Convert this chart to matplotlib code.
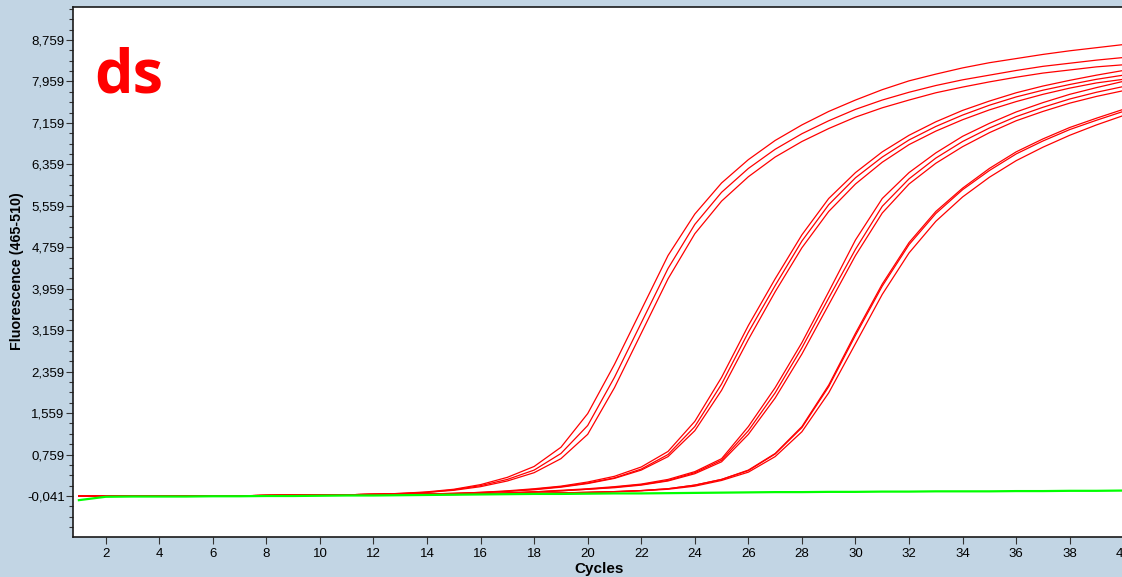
import numpy as np
import matplotlib.pyplot as plt
from matplotlib.ticker import FixedLocator, MultipleLocator, FuncFormatter

# cycles 1..40
cycles = list(range(1, 41))

# shared flat baseline of the red traces, cycles 1-12
base = [-0.04, -0.04, -0.045, -0.045, -0.04, -0.04, -0.035, -0.03, -0.025, -0.02, -0.015, -0.01]

# group 1 (earliest)
a1 = base + [0.01, 0.04, 0.09, 0.18, 0.32, 0.53, 0.9, 1.55, 2.5, 3.55, 4.6, 5.4, 6.0, 6.45,
             6.82, 7.12, 7.38, 7.6, 7.8, 7.97, 8.1, 8.22, 8.32, 8.4, 8.48, 8.55, 8.61, 8.67]
a2 = base + [0.01, 0.03, 0.08, 0.16, 0.28, 0.46, 0.78, 1.32, 2.25, 3.3, 4.35, 5.2, 5.82, 6.28,
             6.65, 6.95, 7.2, 7.42, 7.6, 7.75, 7.88, 7.99, 8.08, 8.17, 8.25, 8.31, 8.37, 8.42]
a3 = base + [0.0, 0.03, 0.07, 0.14, 0.25, 0.41, 0.68, 1.15, 2.05, 3.1, 4.15, 5.02, 5.65, 6.12,
             6.5, 6.8, 7.05, 7.27, 7.45, 7.6, 7.74, 7.85, 7.95, 8.04, 8.12, 8.18, 8.24, 8.28]

# group 2
b1 = base + [-0.005, 0.0, 0.01, 0.03, 0.06, 0.1, 0.15, 0.23, 0.34, 0.52, 0.82, 1.4, 2.25, 3.25,
             4.15, 5.0, 5.7, 6.2, 6.6, 6.92, 7.18, 7.4, 7.58, 7.74, 7.87, 7.98, 8.08, 8.17]
b2 = base + [-0.005, 0.0, 0.01, 0.03, 0.05, 0.09, 0.14, 0.21, 0.31, 0.48, 0.76, 1.3, 2.12, 3.12,
             4.02, 4.88, 5.58, 6.1, 6.5, 6.83, 7.09, 7.31, 7.5, 7.66, 7.79, 7.9, 8.0, 8.08]
b3 = base + [-0.005, 0.0, 0.01, 0.02, 0.05, 0.08, 0.13, 0.2, 0.3, 0.46, 0.72, 1.22, 2.0, 2.98,
             3.9, 4.75, 5.45, 5.98, 6.4, 6.74, 7.0, 7.22, 7.41, 7.57, 7.71, 7.83, 7.93, 8.0]

# group 3
c1 = base + [-0.01, -0.01, -0.005, 0.0, 0.02, 0.04, 0.07, 0.1, 0.14, 0.19, 0.28, 0.43, 0.68, 1.3,
             2.05, 2.92, 3.9, 4.9, 5.7, 6.2, 6.58, 6.9, 7.15, 7.37, 7.55, 7.71, 7.84, 7.96]
c2 = base + [-0.01, -0.01, -0.005, 0.0, 0.02, 0.04, 0.06, 0.09, 0.13, 0.18, 0.26, 0.41, 0.65, 1.22,
             1.95, 2.82, 3.78, 4.72, 5.55, 6.08, 6.48, 6.8, 7.06, 7.28, 7.46, 7.62, 7.75, 7.86]
c3 = base + [-0.01, -0.01, -0.005, 0.0, 0.015, 0.035, 0.06, 0.09, 0.12, 0.17, 0.25, 0.39, 0.62, 1.15,
             1.85, 2.7, 3.65, 4.6, 5.42, 5.98, 6.38, 6.7, 6.97, 7.2, 7.38, 7.54, 7.67, 7.78]

# group 4 (latest)
d1 = base + [-0.015, -0.01, -0.01, -0.005, 0.0, 0.01, 0.02, 0.03, 0.045, 0.065, 0.1, 0.17, 0.28, 0.46,
             0.78, 1.3, 2.1, 3.1, 4.05, 4.85, 5.45, 5.9, 6.28, 6.6, 6.85, 7.07, 7.25, 7.42]
d2 = base + [-0.015, -0.01, -0.01, -0.005, 0.0, 0.01, 0.02, 0.03, 0.04, 0.06, 0.09, 0.15, 0.26, 0.42,
             0.72, 1.2, 1.95, 2.9, 3.85, 4.65, 5.26, 5.73, 6.11, 6.43, 6.69, 6.92, 7.12, 7.3]
d3 = base + [-0.015, -0.01, -0.01, -0.005, 0.0, 0.01, 0.02, 0.03, 0.045, 0.065, 0.1, 0.17, 0.28, 0.45,
             0.77, 1.28, 2.07, 3.06, 4.01, 4.81, 5.41, 5.87, 6.24, 6.56, 6.81, 7.03, 7.21, 7.38]

red_curves = [a1, a2, a3, b1, b2, b3, c1, c2, c3, d1, d2, d3]

# negative control
neg = [-0.12, -0.055, -0.05, -0.05, -0.05, -0.045, -0.045, -0.04, -0.04, -0.035,
       -0.03, -0.03, -0.025, -0.02, -0.015, -0.01, -0.005, 0.0, 0.0, 0.005,
       0.01, 0.01, 0.015, 0.02, 0.025, 0.03, 0.035, 0.035, 0.04, 0.04,
       0.045, 0.045, 0.05, 0.05, 0.05, 0.055, 0.055, 0.06, 0.06, 0.065]

y_ticks = [-0.041, 0.759, 1.559, 2.359, 3.159, 3.959, 4.759, 5.559, 6.359, 7.159, 7.959, 8.759]
x_ticks = list(range(2, 41, 2))

bg = '#c2d5e4'
plt.rcParams['font.family'] = ['Liberation Sans', 'DejaVu Sans']

fig = plt.figure(figsize=(11.22, 5.77), dpi=100, facecolor=bg)
ax = fig.add_axes([73 / 1122, 1 - 537 / 577, (1138 - 73) / 1122, (537 - 7) / 577])
ax.set_facecolor('white')

for ys in red_curves:
    ax.plot(cycles, ys, color='#ff0000', lw=0.9)
ax.plot(cycles, neg, color='#00ff00', lw=1.6)

ax.set_xlim(0.78, 40.55)
ax.set_ylim(-0.831, 9.395)

ax.yaxis.set_major_locator(FixedLocator(y_ticks))
ax.yaxis.set_minor_locator(FixedLocator([t + k * 0.2 for t in [-0.841] + y_ticks for k in (1, 2, 3)]))
ax.yaxis.set_major_formatter(FuncFormatter(lambda v, p: f'{v:.3f}'.replace('.', ',')))
ax.xaxis.set_major_locator(FixedLocator(x_ticks))

ax.tick_params(axis='both', which='major', length=5, width=0.8, labelsize=9.5, color='#333333')
ax.tick_params(axis='y', which='minor', length=3, width=0.8, color='#333333')
ax.tick_params(axis='x', pad=3)
ax.tick_params(axis='y', pad=1)

for s in ['left', 'top', 'bottom']:
    ax.spines[s].set_color('#1a1a1a')
    ax.spines[s].set_linewidth(1.2)
ax.spines['right'].set_visible(False)

fig.text(599 / 1122, 1 - 569 / 577, 'Cycles', ha='center', va='center',
         fontsize=11, fontweight='bold')
fig.text(17 / 1122, 1 - 271 / 577, 'Fluorescence (465-510)', ha='center', va='center',
         rotation=90, fontsize=10.3, fontweight='bold')

ax.text(0.02, 0.925, 'ds', transform=ax.transAxes, color='#ff0000', fontsize=44,
        fontweight='bold', family=['Open Sans', 'DejaVu Sans'], ha='left', va='top')

fig.savefig('out.png', dpi=100, facecolor=bg)
